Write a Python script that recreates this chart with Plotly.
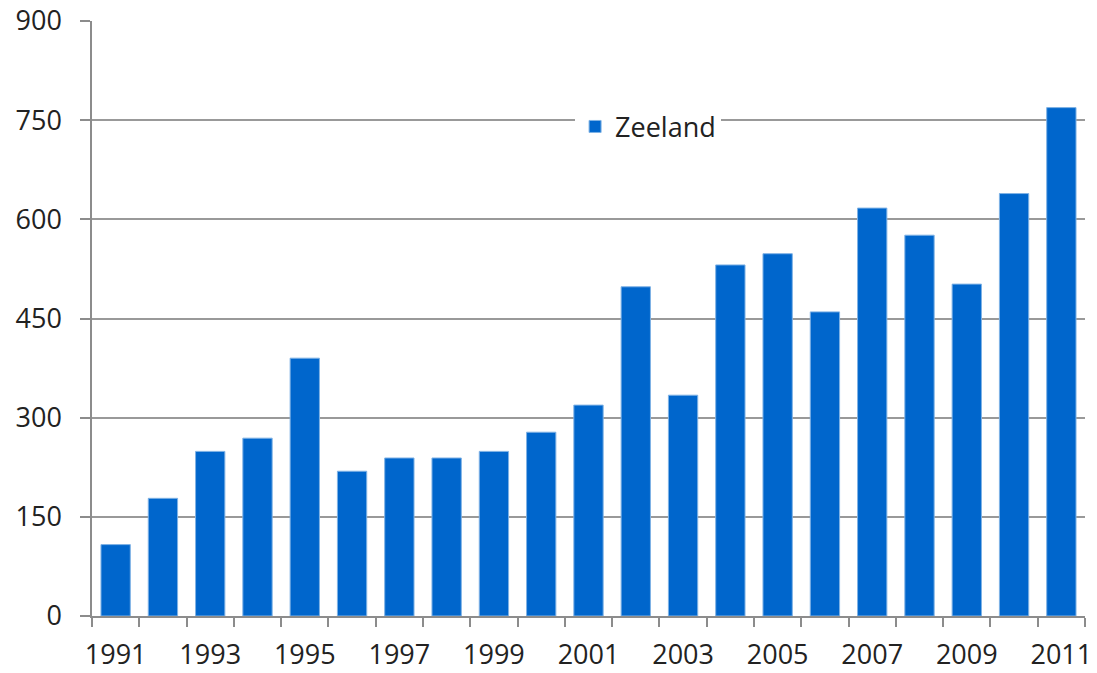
import plotly.graph_objects as go

years = list(range(1991, 2012))
zeeland = [108, 178, 249, 269, 390, 219, 239, 239, 249, 278, 319,
           498, 334, 531, 548, 460, 617, 576, 502, 639, 769]
ytick_vals = [0, 150, 300, 450, 600, 750, 900]
xtick_labels = [str(y) for y in years[::2]]

fig = go.Figure()
fig.add_trace(go.Bar(x=years, y=zeeland, name='Zeeland',
                     marker=dict(color='#0066CC',
                                 line=dict(color='#7fb2e5', width=1))))

fig.update_layout(
    width=1097, height=673,
    margin=dict(l=92, r=12, t=21, b=57),
    plot_bgcolor='white', paper_bgcolor='white',
    font=dict(family='Open Sans', size=27, color='#222222'),
    bargap=0.38,
    showlegend=True,
    legend=dict(x=0.56, y=0.822, xanchor='center', yanchor='middle',
                bgcolor='white', font=dict(size=27),
                borderwidth=0, itemwidth=30),
)
fig.update_xaxes(
    range=[1990.5, 2011.5], automargin=False,
    tickvals=years[::2], ticktext=xtick_labels, ticks='',
    showline=True, linecolor='#8c8c8c', linewidth=1.5,
    showgrid=False, zeroline=False, ticklabelstandoff=14,
    ticklabeloverflow='allow',
    minor=dict(tick0=0.5, dtick=1, ticks='outside', ticklen=9,
               tickcolor='#8c8c8c', tickwidth=1.5),
    tickfont=dict(size=27),
)
fig.update_yaxes(
    range=[0, 900], tickvals=ytick_vals, automargin=False,
    ticks='outside', ticklen=10, tickcolor='#8c8c8c', tickwidth=1.5,
    showline=True, linecolor='#8c8c8c', linewidth=1.5,
    showgrid=True, gridcolor='#999999', gridwidth=1.5,
    zeroline=False, ticklabelstandoff=13, ticklabeloverflow='allow',
    tickfont=dict(size=27),
)

# drop the default 8px body margin so the figure fills the window
fig.write_html("out.html", config={'displayModeBar': False},
               post_script="document.body.style.margin='0';")
